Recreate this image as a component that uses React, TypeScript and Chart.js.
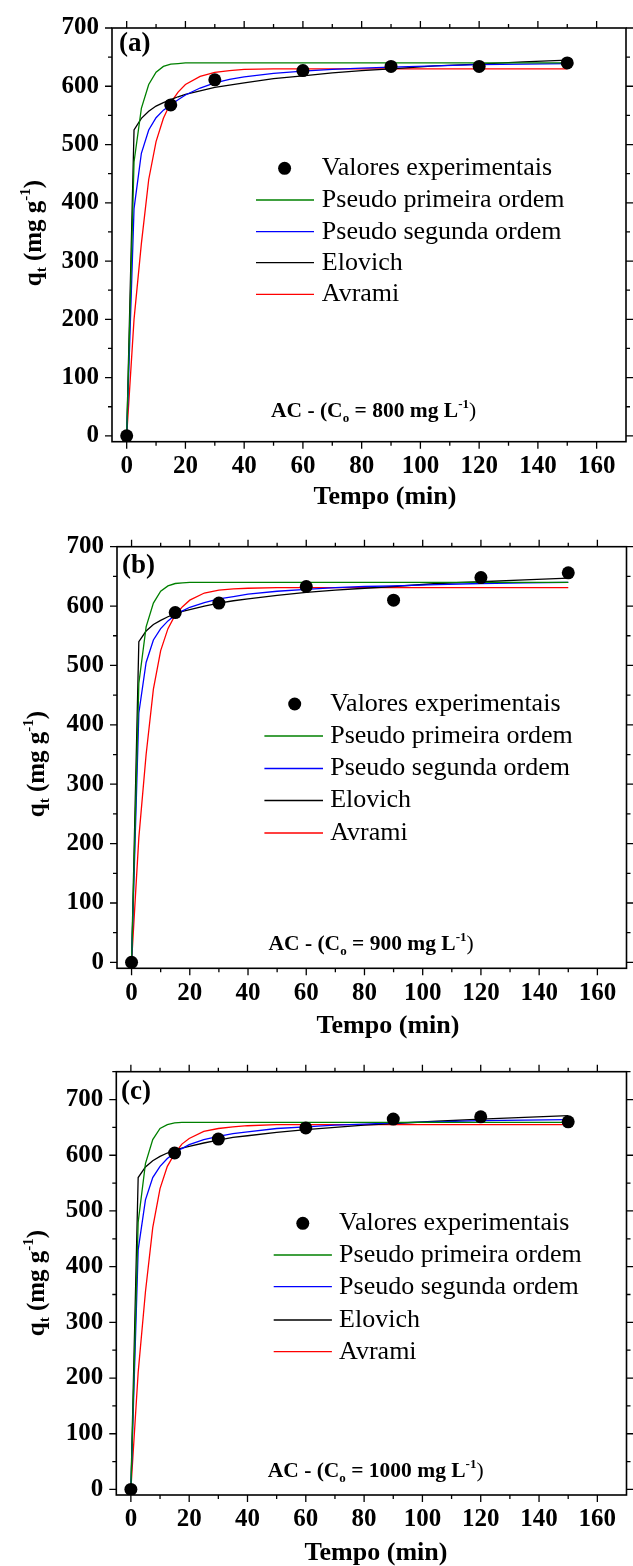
import React, { useEffect, useRef } from "react";
import { Chart, registerables } from "chart.js";

Chart.register(...registerables);

const FONT = "'Liberation Serif', 'Times New Roman', serif";

// ---------- DATA ----------
const seriesLabels = [
  "Valores experimentais",
  "Pseudo primeira ordem",
  "Pseudo segunda ordem",
  "Elovich",
  "Avrami",
];
const seriesColors = ["#000000", "#008000", "#0000FF", "#000000", "#FF0000"];

const expTime = [0, 15, 30, 60, 90, 120, 150];
const expA = [0, 568, 611, 627, 634, 634, 640];
const expB = [0, 589, 605, 633, 610, 648, 656];
const expC = [0, 604, 629, 649, 665, 669, 660];

const modelTime = [0, 2.5, 5, 7.5, 10, 12.5, 15, 17.5, 20, 25, 30, 35, 40, 50, 60, 70, 80, 90, 105, 120, 135, 150];

const pfoA = [0, 470, 562, 603, 624, 634, 638, 639, 640, 640, 640, 640, 640, 640, 640, 640, 640, 640, 640, 640, 640, 640];
const psoA = [0, 390, 485, 525, 546, 559, 568, 577, 585, 597, 606, 612, 616, 622, 626, 629, 631, 633, 635, 637, 638, 639];
const elovichA = [0, 525, 545, 557, 566, 572, 577, 582, 586, 592, 598, 602, 606, 613, 618, 623, 627, 630, 635, 638, 642, 645];
const avramiA = [0, 200, 330, 440, 505, 545, 572, 590, 603, 617, 624, 627, 629, 630, 630, 630, 630, 630, 630, 630, 630, 630];

const pfoB = [0, 470, 565, 605, 625, 634, 638, 639, 640, 640, 640, 640, 640, 640, 640, 640, 640, 640, 640, 640, 640, 640];
const psoB = [0, 420, 505, 543, 562, 575, 585, 592, 598, 606, 612, 616, 620, 625, 628, 631, 633, 634, 636, 638, 639, 640];
const elovichB = [0, 540, 558, 569, 576, 582, 587, 591, 594, 600, 605, 609, 612, 618, 623, 627, 630, 633, 638, 641, 644, 647];
const avramiB = [0, 210, 350, 460, 525, 562, 585, 599, 610, 622, 627, 629, 630, 631, 631, 631, 631, 631, 631, 631, 631, 631];

const pfoC = [0, 480, 585, 628, 648, 655, 658, 659, 659, 659, 659, 659, 659, 659, 659, 659, 659, 659, 659, 659, 659, 659];
const psoC = [0, 430, 520, 560, 580, 594, 604, 612, 619, 628, 634, 639, 642, 648, 651, 654, 656, 658, 660, 662, 663, 664];
const elovichC = [0, 560, 579, 590, 598, 604, 609, 613, 616, 622, 627, 632, 635, 641, 646, 650, 654, 657, 661, 665, 668, 671];
const avramiC = [0, 210, 355, 470, 540, 580, 603, 620, 630, 643, 648, 651, 653, 655, 655, 655, 655, 655, 655, 655, 655, 655];

const xTickValues = [0, 20, 40, 60, 80, 100, 120, 140, 160];
const yTickValues = [0, 100, 200, 300, 400, 500, 600, 700];

const panelLetters = ["(a)", "(b)", "(c)"];
const concentrations = ["800", "900", "1000"];
const yMaxValues = [700, 700, 750];
const xTitle = "Tempo (min)";

// ---------- LAYOUT (page coordinates) ----------
const layouts = [
  {
    canvasTop: 0, canvasHeight: 515,
    area: { left: 112, right: 626, top: 25, bottom: 441.7 },
    letter: [119, 44],
    legend: { marker: 284.6, lineFrom: 256, lineTo: 314, text: 321.8, rows: [168.3, 200, 231.7, 262.7, 294.3] },
    annot: [271, 417],
    xTitle: [385, 497],
    yTitle: [41, 233],
  },
  {
    canvasTop: 515, canvasHeight: 525,
    area: { left: 117, right: 631.7, top: 546.7, bottom: 968.3 },
    letter: [122, 566],
    legend: { marker: 294.7, lineFrom: 264.4, lineTo: 323, text: 330.2, rows: [704, 736, 768.5, 800.5, 833] },
    annot: [268.5, 950],
    xTitle: [388, 1026.7],
    yTitle: [44, 764],
  },
  {
    canvasTop: 1040, canvasHeight: 526,
    area: { left: 116.3, right: 631.8, top: 1071.7, bottom: 1495 },
    letter: [121, 1092],
    legend: { marker: 302.8, lineFrom: 273.7, lineTo: 331.9, text: 339.1, rows: [1223.3, 1255, 1286.7, 1320, 1351.7] },
    annot: [267.7, 1477],
    xTitle: [376, 1553],
    yTitle: [44, 1283],
  },
];

const panelData = [
  { exp: expA, models: [pfoA, psoA, elovichA, avramiA] },
  { exp: expB, models: [pfoB, psoB, elovichB, avramiB] },
  { exp: expC, models: [pfoC, psoC, elovichC, avramiC] },
];

type Seg = { t: string; size: number; dy?: number; bold?: boolean };

function drawRich(ctx: CanvasRenderingContext2D, segs: Seg[], x: number, y: number, align: "left" | "center") {
  const widths = segs.map((s) => {
    ctx.font = `${s.bold ? "bold " : ""}${s.size}px ${FONT}`;
    return ctx.measureText(s.t).width;
  });
  const total = widths.reduce((a, b) => a + b, 0);
  let cx = align === "center" ? x - total / 2 : x;
  ctx.textAlign = "left";
  ctx.textBaseline = "alphabetic";
  segs.forEach((s, i) => {
    ctx.font = `${s.bold ? "bold " : ""}${s.size}px ${FONT}`;
    ctx.fillText(s.t, cx, y + (s.dy || 0));
    cx += widths[i];
  });
}

function Panel({ index }: { index: number }) {
  const ref = useRef<HTMLCanvasElement>(null);
  const L = layouts[index];

  useEffect(() => {
    const canvas = ref.current!;
    const top = L.canvasTop;
    const H = L.canvasHeight;
    const A = L.area;
    const D = panelData[index];
    const yMax = yMaxValues[index];
    const toPts = (xs: number[], ys: number[]) => xs.map((x, i) => ({ x, y: ys[i] }));

    const decor = {
      id: "decor",
      afterDraw(chart: any) {
        const ctx: CanvasRenderingContext2D = chart.ctx;
        const ca = chart.chartArea;
        const xs = chart.scales.x;
        const ys = chart.scales.y;
        ctx.save();
        ctx.strokeStyle = "#000";
        ctx.lineWidth = 1.6;
        ctx.strokeRect(ca.left, ca.top, ca.right - ca.left, ca.bottom - ca.top);
        ctx.lineWidth = 1.3;
        ctx.beginPath();
        for (let v = 0; v <= 160; v += 10) {
          const px = xs.getPixelForValue(v);
          const len = v % 20 === 0 ? 7 : 4;
          ctx.moveTo(px, ca.bottom);
          ctx.lineTo(px, ca.bottom + len);
          ctx.moveTo(px, ca.top);
          ctx.lineTo(px, ca.top - len);
        }
        for (let v = 0; v <= yMax; v += 50) {
          const py = ys.getPixelForValue(v);
          const len = v % 100 === 0 ? 7 : 4;
          ctx.moveTo(ca.left, py);
          ctx.lineTo(ca.left - len, py);
          ctx.moveTo(ca.right, py);
          ctx.lineTo(ca.right + len, py);
        }
        ctx.stroke();

        ctx.fillStyle = "#000";
        // panel letter
        ctx.font = `bold 27px ${FONT}`;
        ctx.textAlign = "left";
        ctx.textBaseline = "middle";
        ctx.fillText(panelLetters[index], L.letter[0], L.letter[1] - top);

        // legend
        const lg = L.legend;
        chart.data.datasets.forEach((ds: any, i: number) => {
          const y = lg.rows[i] - top;
          if (i === 0) {
            ctx.beginPath();
            ctx.arc(lg.marker, y, 6.5, 0, Math.PI * 2);
            ctx.fillStyle = "#000";
            ctx.fill();
          } else {
            ctx.beginPath();
            ctx.strokeStyle = ds.borderColor;
            ctx.lineWidth = 1.3;
            ctx.moveTo(lg.lineFrom, y);
            ctx.lineTo(lg.lineTo, y);
            ctx.stroke();
          }
          ctx.fillStyle = "#000";
          ctx.font = `26px ${FONT}`;
          ctx.textAlign = "left";
          ctx.textBaseline = "middle";
          ctx.fillText(ds.label, lg.text, y);
        });

        // annotation
        drawRich(
          ctx,
          [
            { t: "AC - (C", size: 21.5, bold: true },
            { t: "o", size: 13, dy: 5, bold: true },
            { t: ` = ${concentrations[index]} mg L`, size: 21.5, bold: true },
            { t: "-1", size: 13, dy: -9, bold: true },
            { t: ")", size: 21.5 },
          ],
          L.annot[0],
          L.annot[1] - top,
          "left"
        );

        // x title
        ctx.font = `bold 26px ${FONT}`;
        ctx.textAlign = "center";
        ctx.textBaseline = "middle";
        ctx.fillText(xTitle, L.xTitle[0], L.xTitle[1] - top);

        // y title (rotated)
        ctx.save();
        ctx.translate(L.yTitle[0], L.yTitle[1] - top);
        ctx.rotate(-Math.PI / 2);
        drawRich(
          ctx,
          [
            { t: "q", size: 25, bold: true },
            { t: "t", size: 15, dy: 5, bold: true },
            { t: " (mg g", size: 25, bold: true },
            { t: "-1", size: 15, dy: -11, bold: true },
            { t: ")", size: 25, bold: true },
          ],
          0,
          0,
          "center"
        );
        ctx.restore();
        ctx.restore();
      },
    };

    const lineDs = (k: number) => ({
      type: "line" as const,
      label: seriesLabels[k + 1],
      data: toPts(modelTime, D.models[k]),
      borderColor: seriesColors[k + 1],
      backgroundColor: seriesColors[k + 1],
      borderWidth: 1.3,
      pointRadius: 0,
      tension: 0,
      fill: false,
      order: k + 1,
    });

    const tickFont = { family: FONT, weight: "bold" as const, size: 25 };

    const chart = new Chart(canvas, {
      type: "line",
      data: {
        datasets: [
          {
            type: "scatter",
            label: seriesLabels[0],
            data: toPts(expTime, D.exp),
            pointRadius: 6.5,
            pointBackgroundColor: "#000",
            pointBorderColor: "#000",
            pointBorderWidth: 0,
            showLine: false,
            order: 0,
          } as any,
          lineDs(0),
          lineDs(1),
          lineDs(2),
          lineDs(3),
        ],
      },
      options: {
        animation: false,
        responsive: false,
        devicePixelRatio: 1,
        layout: { padding: { top: A.top - top, right: 633 - A.right, left: 0, bottom: 0 } },
        plugins: { legend: { display: false }, tooltip: { enabled: false } },
        scales: {
          x: {
            type: "linear",
            position: "bottom",
            min: -5,
            max: 170,
            afterBuildTicks: (s: any) => {
              s.ticks = xTickValues.map((v) => ({ value: v }));
            },
            afterFit: (s: any) => {
              s.height = H - (A.bottom - top);
            },
            grid: { display: false, drawTicks: false },
            border: { display: false },
            ticks: {
              autoSkip: false,
              maxRotation: 0,
              padding: 10,
              color: "#000",
              font: tickFont,
            },
          },
          y: {
            type: "linear",
            position: "left",
            min: -10,
            max: yMax,
            afterBuildTicks: (s: any) => {
              s.ticks = yTickValues.map((v) => ({ value: v }));
            },
            afterFit: (s: any) => {
              s.width = A.left;
            },
            grid: { display: false, drawTicks: false },
            border: { display: false },
            ticks: {
              autoSkip: false,
              padding: 13,
              color: "#000",
              font: tickFont,
            },
          },
        },
      } as any,
      plugins: [decor],
    });
    return () => chart.destroy();
  }, []);

  return (
    <canvas
      ref={ref}
      width={633}
      height={L.canvasHeight}
      style={{ position: "absolute", left: 0, top: L.canvasTop, width: 633, height: L.canvasHeight }}
    />
  );
}

export default function App() {
  return (
    <div style={{ position: "absolute", left: 0, top: 0, width: 633, height: 1566, background: "#fff", overflow: "hidden" }}>
      <Panel index={0} />
      <Panel index={1} />
      <Panel index={2} />
    </div>
  );
}
